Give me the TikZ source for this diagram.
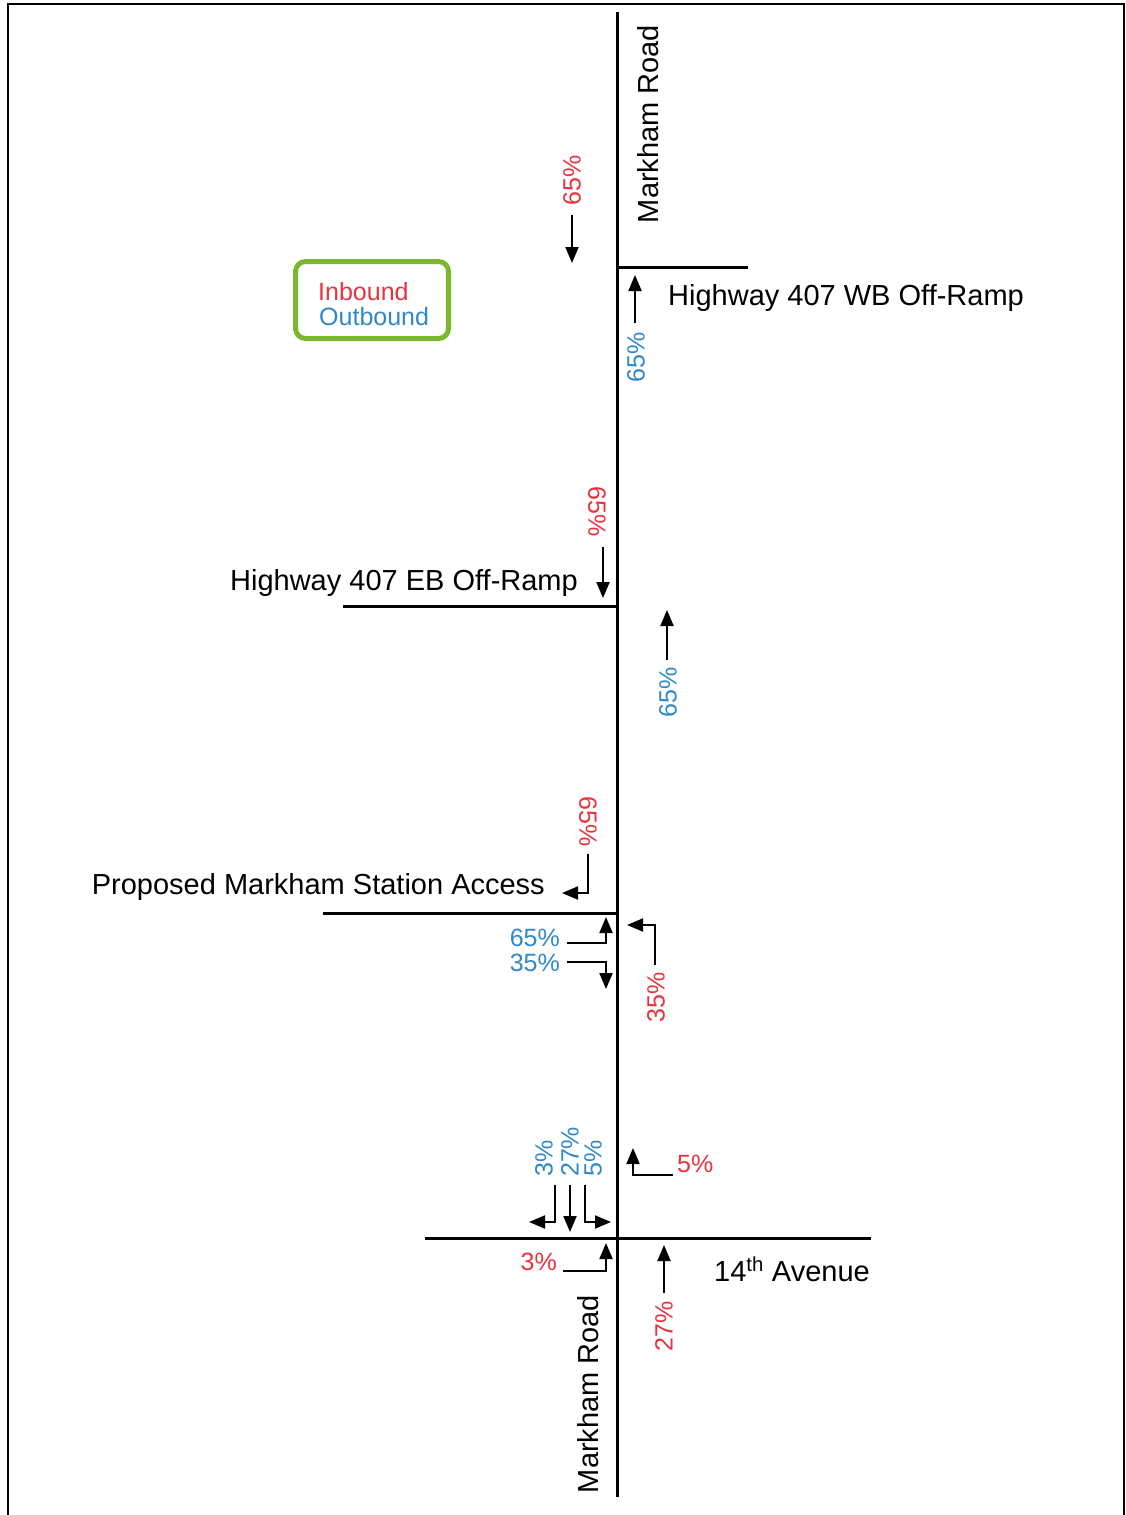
\documentclass[tikz,border=0pt]{standalone}
\usepackage{fontspec}
\setmainfont{Liberation Sans}
\usetikzlibrary{arrows.meta}
\definecolor{inred}{HTML}{E8323C}
\definecolor{outblue}{HTML}{2F88C9}
\definecolor{lgreen}{HTML}{7CB82F}
\begin{document}
\begin{tikzpicture}[x=1pt,y=-1pt,
  road/.style={line width=3pt},
  frame/.style={line width=2pt},
  flow/.style={line width=2pt,-{Triangle[length=16pt,width=13pt]}},
  big/.style={font=\fontsize{29}{34}\selectfont, inner sep=0pt},
  pct/.style={font=\fontsize{25}{30}\selectfont, inner sep=0pt},
  inb/.style={pct,text=inred},
  outb/.style={pct,text=outblue}]
\useasboundingbox (0,0) rectangle (1126,1515);
% frame
\coordinate (fA) at (8,1515); \coordinate (fB) at (8,4);
\coordinate (fC) at (1124,4); \coordinate (fD) at (1124,1515);
\draw[frame] (fA) -- (fB) -- (fC) -- (fD);
% roads
\coordinate (mN) at (617,12); \coordinate (mS) at (617,1497);
\draw[road] (mN) -- (mS);
\coordinate (wbW) at (617,267); \coordinate (wbE) at (748,267);
\draw[road] (wbW) -- (wbE);
\coordinate (ebW) at (343,606); \coordinate (ebE) at (617,606);
\draw[road] (ebW) -- (ebE);
\coordinate (stW) at (323,913); \coordinate (stE) at (617,913);
\draw[road] (stW) -- (stE);
\coordinate (avW) at (425,1238); \coordinate (avE) at (871,1238);
\draw[road] (avW) -- (avE);
% road labels
\node[big, rotate=90] (mrN) at (648,124) {Markham Road};
\node[big, rotate=90] (mrS) at (588,1394) {Markham Road};
\node[big, anchor=base west] (wbL) at (668,305) {Highway 407 WB Off-Ramp};
\node[big, anchor=base east] (ebL) at (578,590) {Highway 407 EB Off-Ramp};
\node[big, anchor=base east] (stL) at (545,894) {Proposed Markham Station Access};
\node[big, anchor=base west] (avL) at (714,1281) {14\textsuperscript{th} Avenue};
% legend
\node[draw=lgreen, line width=5pt, rounded corners=10pt, minimum width=153pt, minimum height=77pt] (legend) at (372,300) {};
\node[inb, anchor=base west] (legIn) at (318,300) {Inbound};
\node[outb, anchor=base west] (legOut) at (319,325) {Outbound};
% top red 65
\node[inb, rotate=90] (r1) at (572,180) {65\%};
\coordinate (r1a) at (572,215); \coordinate (r1b) at (572,263);
\draw[flow] (r1a) -- (r1b);
% blue 65 near WB
\node[outb, rotate=90] (b1) at (636,357) {65\%};
\coordinate (b1a) at (635,323); \coordinate (b1b) at (635,275);
\draw[flow] (b1a) -- (b1b);
% red 65 at EB
\node[inb, rotate=-90] (r2) at (597,512) {65\%};
\coordinate (r2a) at (603,547); \coordinate (r2b) at (603,598);
\draw[flow] (r2a) -- (r2b);
% blue 65 right of road
\node[outb, rotate=90] (b2) at (668,692) {65\%};
\coordinate (b2a) at (667,660); \coordinate (b2b) at (667,610);
\draw[flow] (b2a) -- (b2b);
% red 65 station (turn left)
\node[inb, rotate=-90] (r3) at (588,822) {65\%};
\coordinate (r3a) at (588,854); \coordinate (r3c) at (588,893); \coordinate (r3b) at (562,893);
\draw[flow] (r3a) -- (r3c) -- (r3b);
% blue 65 / 35 station exit
\node[outb, anchor=east] (b3) at (560,938) {65\%};
\coordinate (b3a) at (567,943); \coordinate (b3c) at (606,943); \coordinate (b3b) at (606,917);
\draw[flow] (b3a) -- (b3c) -- (b3b);
\node[outb, anchor=east] (b4) at (560,963) {35\%};
\coordinate (b4a) at (567,962); \coordinate (b4c) at (606,962); \coordinate (b4b) at (606,989);
\draw[flow] (b4a) -- (b4c) -- (b4b);
% red 35 (northbound turn left into station)
\node[inb, rotate=90] (r4) at (656,997) {35\%};
\coordinate (r4a) at (655,965); \coordinate (r4c) at (655,925); \coordinate (r4b) at (627,925);
\draw[flow] (r4a) -- (r4c) -- (r4b);
% blue 3 / 27 / 5 southbound at 14th
\node[outb, rotate=90, anchor=west] (b5) at (544,1177) {3\%};
\node[outb, rotate=90, anchor=west] (b6) at (570,1177) {27\%};
\node[outb, rotate=90, anchor=west] (b7) at (593,1177) {5\%};
\coordinate (b5a) at (555,1185); \coordinate (b5c) at (555,1222); \coordinate (b5b) at (529,1222);
\draw[flow] (b5a) -- (b5c) -- (b5b);
\coordinate (b6a) at (570,1185); \coordinate (b6b) at (570,1232);
\draw[flow] (b6a) -- (b6b);
\coordinate (b7a) at (585,1185); \coordinate (b7c) at (585,1222); \coordinate (b7b) at (611,1222);
\draw[flow] (b7a) -- (b7c) -- (b7b);
% red 5
\node[inb, anchor=west] (r5) at (677,1164) {5\%};
\coordinate (r5a) at (673,1175); \coordinate (r5c) at (633,1175); \coordinate (r5b) at (633,1148);
\draw[flow] (r5a) -- (r5c) -- (r5b);
% red 3
\node[inb, anchor=east] (r6) at (557,1262) {3\%};
\coordinate (r6a) at (563,1271); \coordinate (r6c) at (606,1271); \coordinate (r6b) at (606,1243);
\draw[flow] (r6a) -- (r6c) -- (r6b);
% red 27
\node[inb, rotate=90] (r7) at (664,1326) {27\%};
\coordinate (r7a) at (664,1293); \coordinate (r7b) at (664,1245);
\draw[flow] (r7a) -- (r7b);
\end{tikzpicture}
\end{document}
